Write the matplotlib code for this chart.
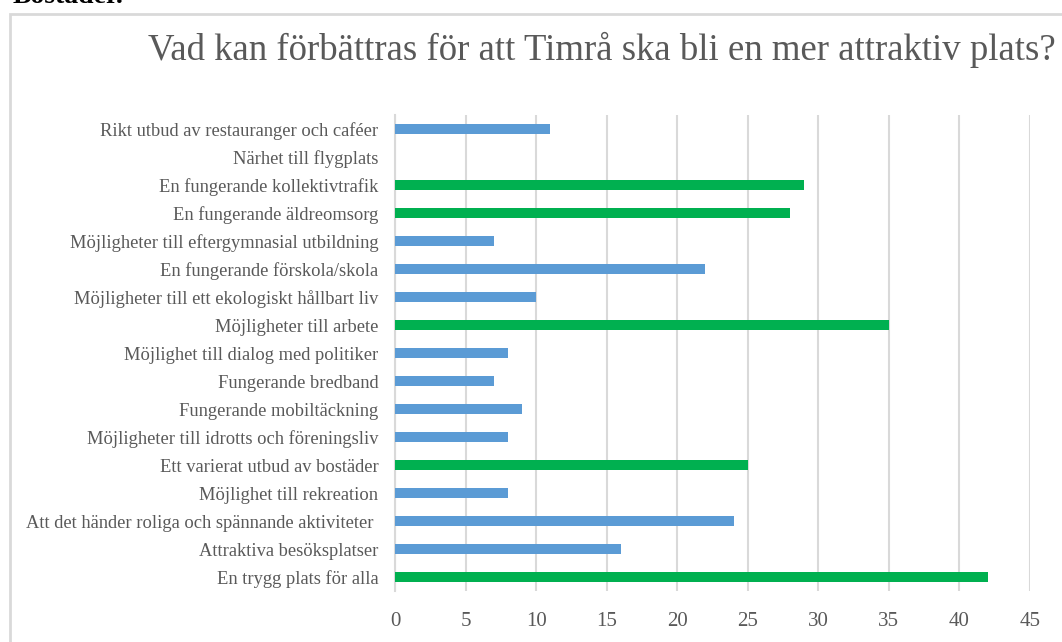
import matplotlib
matplotlib.use("Agg")
import matplotlib.pyplot as plt
from matplotlib.patches import Rectangle

categories = [
    "Rikt utbud av restauranger och caféer",
    "Närhet till flygplats",
    "En fungerande kollektivtrafik",
    "En fungerande äldreomsorg",
    "Möjligheter till eftergymnasial utbildning",
    "En fungerande förskola/skola",
    "Möjligheter till ett ekologiskt hållbart liv",
    "Möjligheter till arbete",
    "Möjlighet till dialog med politiker",
    "Fungerande bredband",
    "Fungerande mobiltäckning",
    "Möjligheter till idrotts och föreningsliv",
    "Ett varierat utbud av bostäder",
    "Möjlighet till rekreation",
    "Att det händer roliga och spännande aktiviteter ",
    "Attraktiva besöksplatser",
    "En trygg plats för alla",
]
values = [11, 0, 29, 28, 7, 22, 10, 35, 8, 7, 9, 8, 25, 8, 24, 16, 42]
highlight = [False, False, True, True, False, False, False, True, False, False,
             False, False, True, False, False, False, True]
xticks = [0, 5, 10, 15, 20, 25, 30, 35, 40, 45]
title = "Vad kan förbättras för att Timrå ska bli en mer attraktiv plats?"

BLUE = "#5B9BD5"
GREEN = "#00B050"
GRAY = "#595959"
GRID = "#D9D9D9"

plt.rcParams['font.family'] = ['Liberation Serif', 'DejaVu Serif']

W, H = 1062, 642
fig = plt.figure(figsize=(W / 100, H / 100), dpi=100)

# outer chart border (cropped on right and bottom)
fig.patches.append(Rectangle((9.5 / W, -0.05), 1.2, 1 - 14 / H + 0.05,
                             transform=fig.transFigure, fill=False,
                             edgecolor=GRID, linewidth=2, zorder=0))
fig.text(0.012, 1 - 3 / H, "Bostäder.", fontsize=20, color="black",
         fontweight="bold", va="baseline", ha="left")

ax = fig.add_axes([395 / W, 1 - 591 / H, (1030 - 395) / W, (591 - 115) / H])
n = len(categories)
ypos = list(range(n))
colors = [GREEN if h else BLUE for h in highlight]
ax.barh(ypos, values, height=0.36, color=colors, zorder=3)
ax.set_ylim(n - 0.5, -0.5)
ax.set_xlim(0, 45)
ax.set_yticks(ypos)
ax.set_yticklabels(categories, fontsize=13.3, color=GRAY)
ax.set_xticks(xticks)
ax.set_xticklabels([str(t) for t in xticks], fontsize=15, color=GRAY)
ax.tick_params(axis='y', length=0, pad=12)
ax.tick_params(axis='x', length=0, pad=15)
ax.grid(axis='x', color=GRID, linewidth=1.5, zorder=0)
for s in ['top', 'right', 'bottom']:
    ax.spines[s].set_visible(False)
ax.spines['left'].set_color(GRID)
ax.spines['left'].set_linewidth(1.5)

fig.text(602 / W, 1 - 50 / H, title, fontsize=26.5, color=GRAY,
         ha="center", va="center")

fig.savefig("out.png", dpi=100)
